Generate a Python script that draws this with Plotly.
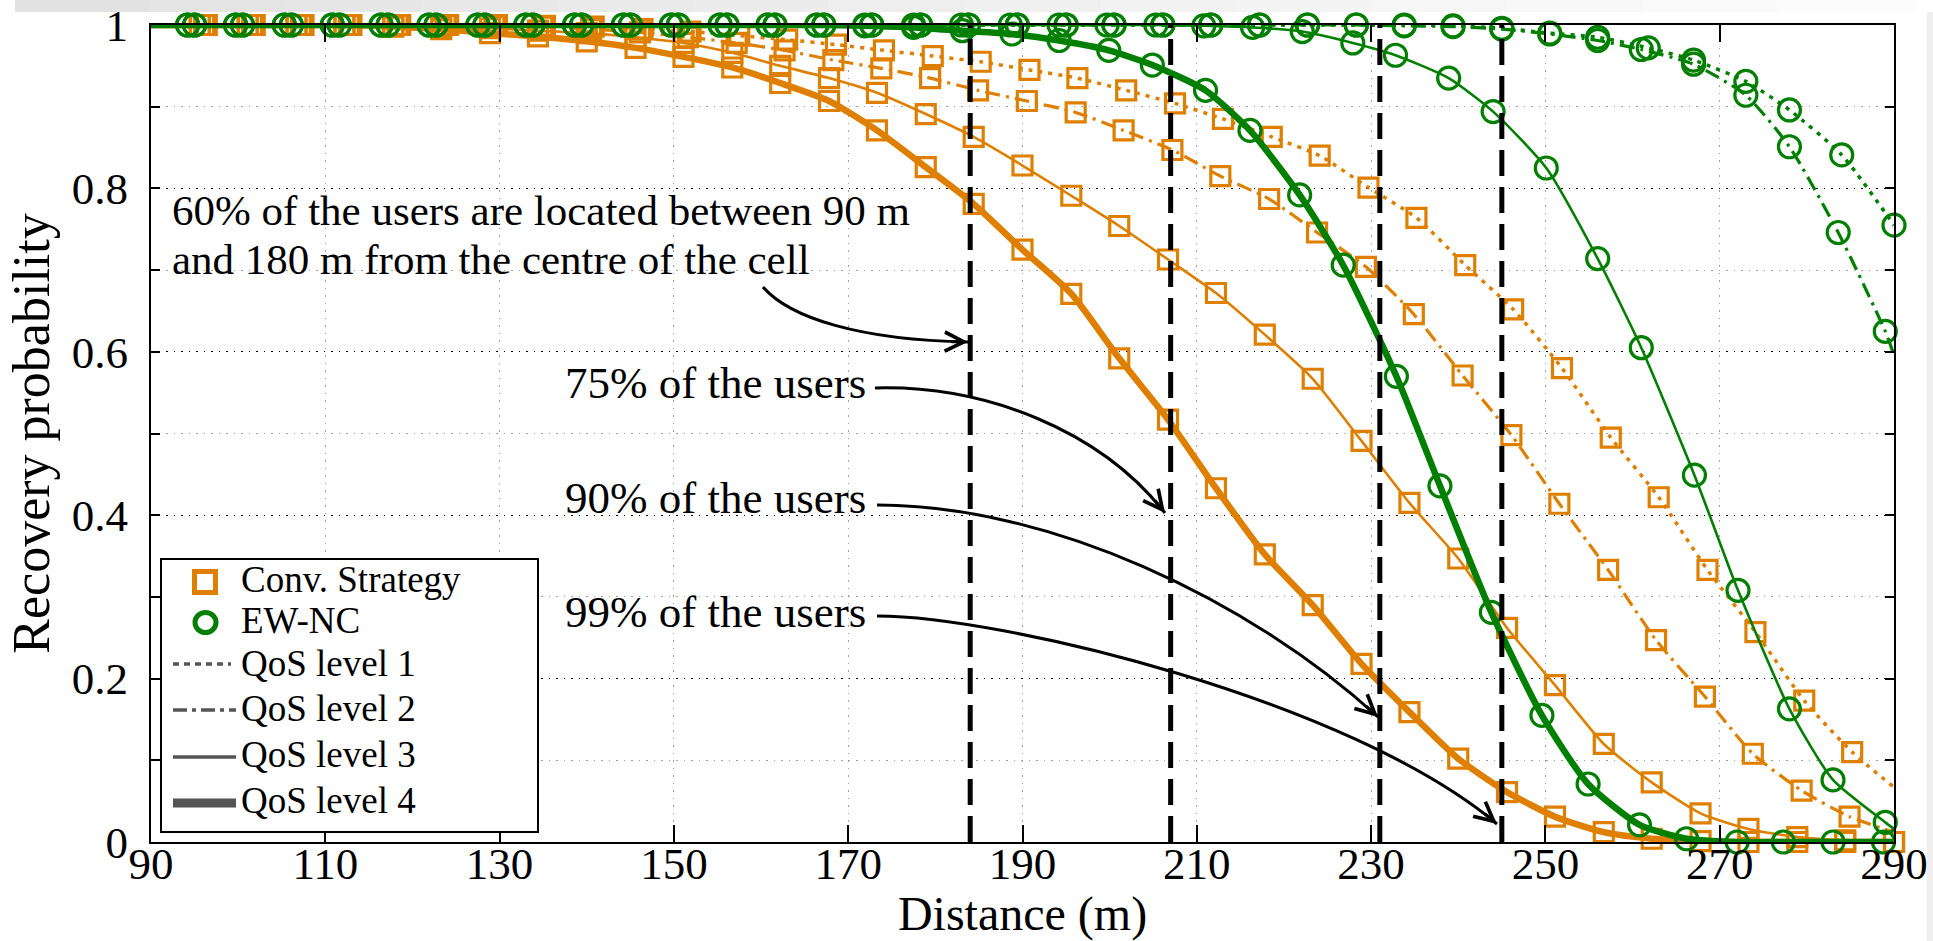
import plotly.graph_objects as go

# ------------------------------------------------------------------ data
# Conv. Strategy (orange squares)
DIST_CONV1 = [90, 96.4, 101.9, 107.5, 113.0, 118.6, 124.1, 129.7, 135.2, 140.8, 146.4, 151.9, 157.5, 163.0,
              168.6, 174.1, 179.7, 185.2, 190.8, 196.3, 201.9, 207.5, 213.0, 218.6, 224.1, 229.7, 235.2,
              240.8, 246.3, 251.9, 257.5, 263.0, 268.6, 274.1, 279.7, 285.2, 290.0]
REC_CONV1 = [1, 1, 1, 1, 1, 1, 1, 1, 0.999, 0.998, 0.995, 0.992, 0.987, 0.982,
             0.976, 0.969, 0.962, 0.955, 0.945, 0.935, 0.920, 0.904, 0.885, 0.863, 0.840, 0.801, 0.764,
             0.706, 0.652, 0.580, 0.495, 0.422, 0.333, 0.257, 0.173, 0.110, 0.067]

DIST_CONV2 = [90, 96.1, 101.6, 107.2, 112.7, 118.3, 123.8, 129.4, 134.9, 140.5, 146.1, 151.6, 157.2, 162.7,
              168.3, 173.8, 179.4, 184.9, 190.5, 196.1, 201.6, 207.2, 212.7, 218.3, 223.8, 229.4, 234.9,
              240.5, 246.1, 251.6, 257.2, 262.7, 268.3, 273.8, 279.4, 284.9, 290.0]
REC_CONV2 = [1, 1, 1, 1, 1, 1, 1, 0.999, 0.998, 0.995, 0.991, 0.985, 0.978, 0.969,
             0.957, 0.947, 0.935, 0.920, 0.907, 0.893, 0.871, 0.847, 0.815, 0.787, 0.746, 0.704, 0.646,
             0.571, 0.498, 0.414, 0.333, 0.247, 0.178, 0.108, 0.063, 0.031, 0.012]

DIST_CONV3 = [90, 95.6, 101.1, 106.7, 112.2, 117.8, 123.3, 128.9, 134.4, 140.0, 145.6, 151.1, 156.7, 162.2,
              167.8, 173.3, 178.9, 184.4, 190.0, 195.6, 201.1, 206.7, 212.2, 217.8, 223.3, 228.9, 234.4,
              240.0, 245.6, 251.1, 256.7, 262.2, 267.8, 273.3, 278.9, 284.4, 290.0]
REC_CONV3 = [1, 1, 1, 1, 1, 1, 0.999, 0.996, 0.993, 0.990, 0.985, 0.978, 0.966, 0.950,
             0.935, 0.917, 0.891, 0.863, 0.828, 0.791, 0.754, 0.713, 0.672, 0.621, 0.567, 0.491, 0.415,
             0.347, 0.262, 0.192, 0.120, 0.073, 0.035, 0.016, 0.006, 0.002, 0.0]

DIST_CONV4 = [90, 95.6, 101.1, 106.7, 112.2, 117.8, 123.3, 128.9, 134.4, 140.0, 145.6, 151.1, 156.7, 162.2,
              167.8, 173.3, 178.9, 184.4, 190.0, 195.6, 201.1, 206.7, 212.2, 217.8, 223.3, 228.9, 234.4,
              240.0, 245.6, 251.1, 256.7, 262.2, 267.8, 273.3, 278.9, 284.4, 290.0]
REC_CONV4 = [1, 1, 1, 1, 1, 0.998, 0.995, 0.990, 0.986, 0.980, 0.972, 0.961, 0.948, 0.929,
             0.907, 0.871, 0.826, 0.781, 0.725, 0.671, 0.592, 0.517, 0.433, 0.352, 0.290, 0.218, 0.159,
             0.102, 0.061, 0.031, 0.012, 0.004, 0.001, 0.0, 0.0, 0.0, 0.0]

# EW-NC (green circles)
DIST_EW1 = [90, 95.0, 100.5, 106.1, 111.6, 117.2, 122.7, 128.3, 133.8, 139.4, 145.0, 150.5, 156.1, 161.6,
            167.2, 172.7, 178.3, 183.8, 189.4, 195.0, 200.5, 206.1, 211.6, 217.2, 222.7, 228.3, 233.8,
            239.4, 245.0, 250.5, 256.0, 261.8, 267.0, 273.0, 278.0, 284.0, 290.0]
REC_EW1 = [1, 1, 1, 1, 1, 1, 1, 1, 1, 1, 1, 1, 1, 1,
           1, 1, 1, 1, 1, 1, 1, 1, 1, 1, 1, 1, 1,
           0.999, 0.996, 0.990, 0.985, 0.972, 0.957, 0.931, 0.896, 0.841, 0.755]

DIST_EW2 = [90, 95.0, 100.5, 106.1, 111.6, 117.2, 122.7, 128.3, 133.8, 139.4, 145.0, 150.5, 156.1, 161.6,
            167.2, 172.7, 178.3, 183.8, 189.4, 195.0, 200.5, 206.1, 211.6, 217.2, 222.7, 228.3, 233.8,
            239.4, 245.0, 250.5, 256.0, 261.0, 267.0, 273.0, 278.0, 283.6, 289.0, 290.0]
REC_EW2 = [1, 1, 1, 1, 1, 1, 1, 1, 1, 1, 1, 1, 1, 1,
           1, 1, 1, 1, 1, 1, 1, 1, 1, 1, 1, 1, 0.999,
           0.998, 0.995, 0.989, 0.981, 0.970, 0.952, 0.914, 0.851, 0.746, 0.625, 0.596]

DIST_EW3 = [90, 94.2, 99.7, 105.3, 110.8, 116.4, 121.9, 127.5, 133.0, 138.6, 144.2, 149.7, 155.3, 160.8,
            166.4, 171.9, 177.5, 183.0, 188.6, 194.2, 199.7, 205.3, 210.8, 216.4, 222.1, 227.9, 232.8,
            238.9, 244.0, 250.1, 256.0, 261.0, 267.1, 272.1, 278.0, 283.0, 289.0, 290.0]
REC_EW3 = [1, 1, 1, 1, 1, 1, 1, 1, 1, 1, 1, 1, 1, 1,
           1, 1, 1, 1, 1, 1, 1, 1, 0.999, 0.997, 0.992, 0.978, 0.963,
           0.935, 0.894, 0.825, 0.714, 0.605, 0.449, 0.308, 0.163, 0.076, 0.024, 0.016]

DIST_EW4 = [90, 94.2, 99.7, 105.3, 110.8, 116.4, 121.9, 127.5, 133.0, 138.6, 144.2, 149.7, 155.3, 160.8,
            166.4, 171.9, 177.5, 183.1, 188.8, 194.2, 199.9, 204.9, 211.0, 216.1, 221.8, 226.8, 232.9,
            237.9, 243.8, 249.6, 254.9, 260.8, 266.2, 272.0, 277.3, 283.0, 288.8, 290.0]
REC_EW4 = [1, 1, 1, 1, 1, 1, 1, 1, 1, 1, 1, 1, 1, 1,
           1, 0.999, 0.997, 0.993, 0.989, 0.981, 0.969, 0.951, 0.920, 0.871, 0.792, 0.706, 0.570,
           0.436, 0.281, 0.155, 0.071, 0.021, 0.004, 0.0, 0.0, 0.0, 0.0, 0.0]

# user-coverage distances (vertical dashed lines)
COVERAGE_DIST = [184, 207, 231, 245]
COVERAGE_LABELS = ["75% of the users", "90% of the users", "99% of the users"]
NOTE_60 = ["60% of the users are located between 90 m", "and 180 m from the centre of the cell"]

X_TICKS = [90, 110, 130, 150, 170, 190, 210, 230, 250, 270, 290]
Y_TICKS = [0, 0.2, 0.4, 0.6, 0.8, 1]
X_RANGE = [90, 290]
Y_RANGE = [0, 1]

LEGEND_SERIES = ["Conv. Strategy", "EW-NC"]
LEGEND_QOS = ["QoS level 1", "QoS level 2", "QoS level 3", "QoS level 4"]

# ------------------------------------------------------------------ style
ORANGE = "#DF7F00"
GREEN = "#007F00"
LEG_GRAY = "#555555"
FONT = "Liberation Serif"

W, H = 1933, 941
PL, PR, PT, PB = 151, 1894, 25, 842          # plot area in px


def dx(px):
    return X_RANGE[0] + (px - PL) / (PR - PL) * (X_RANGE[1] - X_RANGE[0])


def dy(py):
    return Y_RANGE[0] + (PB - py) / (PB - PT) * (Y_RANGE[1] - Y_RANGE[0])


def paper_x(px):
    return (px - PL) / (PR - PL)


def paper_y(py):
    return (PB - py) / (PB - PT)


QOS_STYLE = {
    1: dict(width=3.5, dash="4px,6px"),
    2: dict(width=3.2, dash="15px,6px,3px,6px"),
    3: dict(width=2.6, dash="solid"),
    4: dict(width=6.5, dash="solid"),
}

series = [
    # (x, y, color, qos, symbol, size, marker slice)
    (DIST_CONV1, REC_CONV1, ORANGE, 1, "square-open", 19, slice(1, -1)),
    (DIST_CONV2, REC_CONV2, ORANGE, 2, "square-open", 19, slice(1, -1)),
    (DIST_CONV3, REC_CONV3, ORANGE, 3, "square-open", 19, slice(1, None)),
    (DIST_CONV4, REC_CONV4, ORANGE, 4, "square-open", 19, slice(1, None)),
    (DIST_EW1, REC_EW1, GREEN, 1, "circle-open", 22, slice(1, None)),
    (DIST_EW2, REC_EW2, GREEN, 2, "circle-open", 22, slice(1, -1)),
    (DIST_EW3, REC_EW3, GREEN, 3, "circle-open", 22, slice(1, -1)),
    (DIST_EW4, REC_EW4, GREEN, 4, "circle-open", 22, slice(1, -1)),
]

fig = go.Figure()

for xs, ys, col, q, sym, msz, sl in series:
    st = QOS_STYLE[q]
    fig.add_trace(go.Scatter(
        x=xs, y=ys, mode="lines",
        line=dict(color=col, width=st["width"], dash=st["dash"], shape="spline", smoothing=0.6),
        hoverinfo="skip", showlegend=False, cliponaxis=False))
    fig.add_trace(go.Scatter(
        x=xs[sl], y=ys[sl], mode="markers",
        marker=dict(symbol=sym, size=msz, color=col, line=dict(width=3.2)),
        hoverinfo="skip", showlegend=False, cliponaxis=False))

for v in COVERAGE_DIST:
    fig.add_trace(go.Scatter(
        x=[v, v], y=Y_RANGE, mode="lines",
        line=dict(color="black", width=5, dash="26px,11px"),
        hoverinfo="skip", showlegend=False, cliponaxis=False))

shapes = []
annotations = []

# ---- curved arrows (cubic Bezier, pixel geometry converted to data units)
arrows = [
    [(763, 287), (790, 318), (860, 340), (968, 342)],
    [(875, 388), (985, 385), (1100, 430), (1165, 513)],
    [(877, 505), (1050, 505), (1250, 600), (1378, 717)],
    [(877, 616), (1000, 616), (1350, 700), (1497, 824)],
]
for pts in arrows:
    (a, b), (c, d), (e, f), (g, h) = pts
    path = (f"M {dx(a)},{dy(b)} C {dx(c)},{dy(d)} {dx(e)},{dy(f)} {dx(g)},{dy(h)}")
    shapes.append(dict(type="path", xref="x", yref="y", path=path,
                       line=dict(color="black", width=3), layer="above"))
    # arrow head along the end tangent
    tx, ty = g - e, h - f
    n = (tx ** 2 + ty ** 2) ** 0.5
    bx, by = g - 18 * tx / n, h - 18 * ty / n
    annotations.append(dict(x=dx(g), y=dy(h), ax=dx(bx), ay=dy(by), xref="x", yref="y",
                            axref="x", ayref="y", text="", showarrow=True, arrowhead=5,
                            arrowsize=1.25, arrowwidth=3, arrowcolor="black", standoff=0))

nfont = dict(family=FONT, size=43, color="black")
annotations.append(dict(x=dx(170), y=dy(210), xref="x", yref="y", text=NOTE_60[0],
                        showarrow=False, xanchor="left", yanchor="middle", font=nfont))
annotations.append(dict(x=dx(170), y=dy(259), xref="x", yref="y", text=NOTE_60[1],
                        showarrow=False, xanchor="left", yanchor="middle", font=nfont))
tfont = dict(family=FONT, size=45, color="black")
for lab, yc in zip(COVERAGE_LABELS, [383, 498, 612]):
    annotations.append(dict(x=dx(868), y=dy(yc), xref="x", yref="y", text=lab,
                            showarrow=False, xanchor="right", yanchor="middle", font=tfont))

# ---- legend (drawn manually to match the original box layout)
shapes.append(dict(type="rect", xref="paper", yref="paper",
                   x0=paper_x(161), x1=paper_x(538), y0=paper_y(832), y1=paper_y(559),
                   line=dict(color="black", width=2), fillcolor="white", layer="above"))
# marker samples
shapes.append(dict(type="rect", xref="paper", yref="paper",
                   x0=paper_x(194.5), x1=paper_x(215.5), y0=paper_y(592.5), y1=paper_y(571.5),
                   line=dict(color=ORANGE, width=5), fillcolor="rgba(0,0,0,0)", layer="above"))
shapes.append(dict(type="circle", xref="paper", yref="paper",
                   x0=paper_x(195), x1=paper_x(216), y0=paper_y(632.5), y1=paper_y(612.5),
                   line=dict(color=GREEN, width=5), fillcolor="rgba(0,0,0,0)", layer="above"))
leg_line_y = [664, 710, 757, 803]
leg_line_x1 = [231, 236, 236, 236]
leg_styles = [dict(width=3.5, dash="6px,5px"), dict(width=3.5, dash="14px,5px,4px,5px"),
              dict(width=3.5, dash="solid"), dict(width=9, dash="solid")]
for yy, x1, stl in zip(leg_line_y, leg_line_x1, leg_styles):
    shapes.append(dict(type="line", xref="paper", yref="paper",
                       x0=paper_x(173), x1=paper_x(x1), y0=paper_y(yy), y1=paper_y(yy),
                       line=dict(color=LEG_GRAY, width=stl["width"], dash=stl["dash"]), layer="above"))
lfont = dict(family=FONT, size=37, color="black")
for lab, yc in zip(LEGEND_SERIES + LEGEND_QOS, [579, 621, 663, 708, 754, 800]):
    annotations.append(dict(x=paper_x(239), y=paper_y(yc), xref="paper", yref="paper", text=lab,
                            showarrow=False, xanchor="left", yanchor="middle", font=lfont))

# ---- light screenshot border (top band gradient + right strip)
nseg = 14
x_a, x_b = 15, 1916
for i in range(nseg):
    g = int(226 + (252 - 226) * i / (nseg - 1))
    shapes.append(dict(type="rect", xref="paper", yref="paper",
                       x0=paper_x(x_a + (x_b - x_a) * i / nseg), x1=paper_x(x_a + (x_b - x_a) * (i + 1) / nseg),
                       y0=paper_y(12), y1=paper_y(0), line=dict(width=0),
                       fillcolor=f"rgb({g},{g},{g})", layer="below"))
shapes.append(dict(type="rect", xref="paper", yref="paper",
                   x0=paper_x(1927), x1=paper_x(1933), y0=paper_y(941), y1=paper_y(12),
                   line=dict(width=0), fillcolor="rgb(238,238,238)", layer="below"))

axfont = dict(family=FONT, size=45, color="black")
fig.update_layout(
    template="none",
    width=W, height=H,
    margin=dict(l=PL, r=W - PR, t=PT, b=H - PB, pad=0, autoexpand=False),
    paper_bgcolor="white", plot_bgcolor="white",
    showlegend=False,
    shapes=shapes, annotations=annotations,
    xaxis=dict(range=X_RANGE, tickvals=X_TICKS, ticks="inside", ticklen=17, tickwidth=1.5,
               tickcolor="black", showline=True, linecolor="black", linewidth=2, mirror="ticks",
               showgrid=True, gridcolor="#a0a0a0", gridwidth=1.3, griddash="1.5px,6px",
               zeroline=False, tickfont=axfont, automargin=False, ticklabelstandoff=-19,
               title=dict(text="Distance (m)", font=dict(family=FONT, size=48, color="black"), standoff=12)),
    yaxis=dict(range=Y_RANGE, tickvals=Y_TICKS, ticks="inside", ticklen=9, tickwidth=1.5,
               tickcolor="black", showline=True, linecolor="black", linewidth=2, mirror="ticks",
               showgrid=True, gridcolor="black", gridwidth=1.3, griddash="1.5px,6px",
               zeroline=False, tickfont=axfont, automargin=False, ticklabelstandoff=12,
               minor=dict(dtick=0.1, ticks="inside", ticklen=9, tickwidth=1.5, tickcolor="black",
                          showgrid=True, gridcolor="#a0a0a0", gridwidth=1.3, griddash="1.5px,6px"),
               title=dict(text="Recovery probability", font=dict(family=FONT, size=52, color="black"),
                          standoff=6)),
)

fig.write_html("out.html", include_plotlyjs=True, config={"displayModeBar": False},
               post_script="document.body.style.margin='0';document.body.style.overflow='hidden';")
